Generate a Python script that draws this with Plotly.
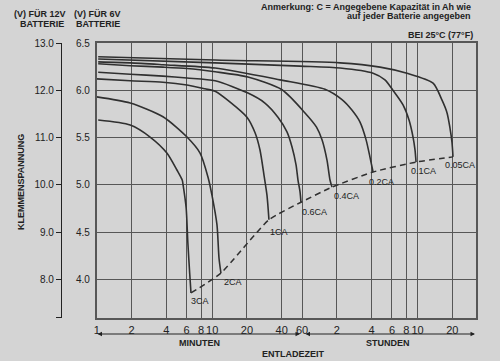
import math
import plotly.graph_objects as go

# ---------------- data (time in minutes, terminal voltage of a 6V battery) ----------------
rates = ["3CA", "2CA", "1CA", "0.6CA", "0.4CA", "0.2CA", "0.1CA", "0.05CA"]

t_3ca = [1.03, 1.95, 2.9, 4.05, 4.95, 5.5, 5.6, 5.95, 6.15, 6.4, 6.55]
v_3ca = [5.685, 5.632, 5.505, 5.336, 5.156, 5.05, 4.997, 4.754, 4.394, 4.045, 3.855]

t_2ca = [1.0, 1.95, 3.75, 6.05, 7.85, 9.2, 9.95, 11.0, 11.45, 11.9]
v_2ca = [5.93, 5.865, 5.72, 5.505, 5.335, 5.08, 4.89, 4.575, 4.225, 4.065]

t_1ca = [1.0, 1.95, 3.75, 6.05, 8.65, 10.6, 14.3, 20.0, 23.5, 25.9, 28.1, 29.8, 31.0]
v_1ca = [6.12, 6.10, 6.085, 6.055, 6.015, 5.99, 5.875, 5.715, 5.55, 5.37, 5.10, 4.89, 4.63]

t_06ca = [1.03, 1.95, 3.75, 6.05, 10.6, 20.4, 28.6, 37.1, 44.4, 49.1, 53.2, 55.3, 57.6, 58.7]
v_06ca = [6.19, 6.17, 6.15, 6.13, 6.10, 5.97, 5.865, 5.715, 5.56, 5.40, 5.21, 5.05, 4.925, 4.815]

t_04ca = [1.03, 1.95, 3.75, 6.05, 10.6, 20.4, 40.2, 63.6, 80.0, 89.3, 98.6, 104.7, 109.0]
v_04ca = [6.28, 6.26, 6.245, 6.23, 6.195, 6.14, 6.005, 5.76, 5.61, 5.475, 5.26, 5.05, 4.975]

t_02ca = [1.03, 1.95, 3.75, 10.6, 38.6, 94.8, 133, 162, 190, 215, 232, 247]
v_02ca = [6.30, 6.29, 6.27, 6.235, 6.11, 6.01, 5.90, 5.79, 5.665, 5.475, 5.295, 5.135]

t_01ca = [1.03, 10.6, 57.6, 128, 247, 313, 367, 449, 506, 548, 570, 582]
v_01ca = [6.33, 6.29, 6.255, 6.235, 6.18, 6.11, 6.00, 5.845, 5.685, 5.505, 5.37, 5.24]

t_005ca = [1.03, 10.6, 128, 284, 486, 817, 977, 1080, 1145, 1191, 1216]
v_005ca = [6.355, 6.32, 6.29, 6.245, 6.18, 6.075, 5.895, 5.76, 5.60, 5.45, 5.295]

# x-axis ticks (minutes), labels switch to hours after 60 min
x_tickvals = [1, 2, 4, 6, 8, 10, 20, 40, 60, 120, 240, 360, 480, 600, 1200]
x_ticktext = ["1", "2", "4", "6", "8", "10", "20", "40", "60", "2", "4", "6", "8", "10", "20"]

y6_tickvals = [4.0, 4.5, 5.0, 5.5, 6.0, 6.5]
y6_ticktext = ["4.0", "4.5", "5.0", "5.5", "6.0", "6.5"]
y12_tickvals = [7.2, 8.0, 9.0, 10.0, 11.0, 12.0, 13.0]
y12_ticktext = ["", "8.0", "9.0", "10.0", "11.0", "12.0", "13.0"]

# ---------------- style ----------------
BG = "#d4d4d4"
INK = "#222222"
GRID = "#575757"
FONT = "Liberation Sans, Arial, sans-serif"

series_t = [t_3ca, t_2ca, t_1ca, t_06ca, t_04ca, t_02ca, t_01ca, t_005ca]
series_v = [v_3ca, v_2ca, v_1ca, v_06ca, v_04ca, v_02ca, v_01ca, v_005ca]
label_shift = [(-2, -8), (1, -9), (-1, -12), (-1, -10), (0, -9), (-6, -10), (-7, -9), (-10, -8)]

fig = go.Figure()

for name, ts, vs in zip(rates, series_t, series_v):
    fig.add_trace(go.Scatter(x=ts, y=vs, mode="lines", name=name,
                             line=dict(color="#303030", width=1.6, shape="spline", smoothing=0.7),
                             hoverinfo="skip", showlegend=False))

# dashed end-of-discharge line through the end points
end_t = [ts[-1] for ts in series_t]
end_v = [vs[-1] for vs in series_v]
fig.add_trace(go.Scatter(x=end_t, y=end_v, mode="lines",
                         line=dict(color="#303030", width=1.5, dash="6px,4px", shape="spline", smoothing=0.5),
                         hoverinfo="skip", showlegend=False))

# invisible trace on the 12V axis so it is drawn
fig.add_trace(go.Scatter(x=[1], y=[10], yaxis="y2", mode="markers",
                         marker=dict(opacity=0), hoverinfo="skip", showlegend=False))

annotations = []
for name, t, v, (dx, dy) in zip(rates, end_t, end_v, label_shift):
    annotations.append(dict(x=math.log10(t), y=v, xref="x", yref="y", text=name,
                            showarrow=False, xanchor="left", yanchor="middle",
                            xshift=dx, yshift=dy, font=dict(size=9, color=INK, family=FONT)))

L, R, T, B = 50, 24, 43, 43
PW = 500 - L - R
PH = 361 - T - B


def px(xp):
    return (xp - L) / PW


def py(yp):
    return (T + PH - yp) / PH


def txt(x, y, s, xa="center", size=9, bold=True, angle=0):
    annotations.append(dict(x=px(x), y=py(y), xref="paper", yref="paper", text=s,
                            showarrow=False, xanchor=xa, yanchor="middle", textangle=angle,
                            font=dict(size=size, color=INK, family=FONT,
                                      weight="bold" if bold else "normal")))


txt(40, 13.5, "(V) FÜR 12V")
txt(41.5, 24.5, "BATTERIE")
txt(97, 13.5, "(V) FÜR 6V")
txt(98, 24.5, "BATTERIE")
txt(473, 7.5, "Anmerkung: C = Angegebene Kapazität in Ah wie", xa="right")
txt(473, 16.5, "auf jeder Batterie angegeben", xa="right")
txt(475, 35, "BEI 25°C (77°F)", xa="right")
txt(21, 182, "KLEMMENSPANNUNG", angle=-90)
txt(199, 342.5, "MINUTEN")
txt(388, 342.5, "STUNDEN")
txt(293, 353.5, "ENTLADEZEIT")

# double-headed arrows under the time axis
for x0, x1 in [(96, 300), (304, 475)]:
    annotations.append(dict(x=px(x1), y=py(334), xref="paper", yref="paper",
                            ax=-(x1 - x0), ay=0,
                            text="", showarrow=True, arrowhead=2, arrowside="end+start",
                            arrowsize=0.9, arrowwidth=1, arrowcolor=INK))

fig.update_layout(
    width=500, height=361,
    margin=dict(l=L, r=R, t=T, b=B),
    paper_bgcolor=BG, plot_bgcolor=BG,
    font=dict(family=FONT, color=INK),
    annotations=annotations,
    xaxis=dict(type="log", range=[0, 3.284], domain=[px(96.7), 1],
               tickvals=x_tickvals, ticktext=x_ticktext,
               tickfont=dict(size=11, color=INK),
               ticks="outside", ticklen=1, tickcolor=BG,
               showgrid=True, gridcolor=GRID, gridwidth=1.3,
               showline=True, linecolor=GRID, linewidth=1.5, mirror=True,
               zeroline=False),
    yaxis=dict(range=[3.59, 6.5], tickvals=y6_tickvals, ticktext=y6_ticktext,
               tickfont=dict(size=10, color=INK),
               ticks="outside", ticklen=3, tickcolor=BG,
               showgrid=True, gridcolor=GRID, gridwidth=1.3,
               showline=True, linecolor=GRID, linewidth=1.5, mirror=True,
               zeroline=False),
    yaxis2=dict(range=[7.18, 13.0], overlaying="y", anchor="free", side="left",
                position=px(61), tickvals=y12_tickvals, ticktext=y12_ticktext,
                tickfont=dict(size=10, color=INK),
                ticks="outside", ticklen=5, tickcolor=INK, tickwidth=1,
                showgrid=False, showline=True, linecolor=INK, linewidth=1.3,
                zeroline=False),
)

fig.write_html("out.html", config={"displayModeBar": False},
               post_script="document.body.style.margin='0';document.body.style.background='" + BG + "';")
